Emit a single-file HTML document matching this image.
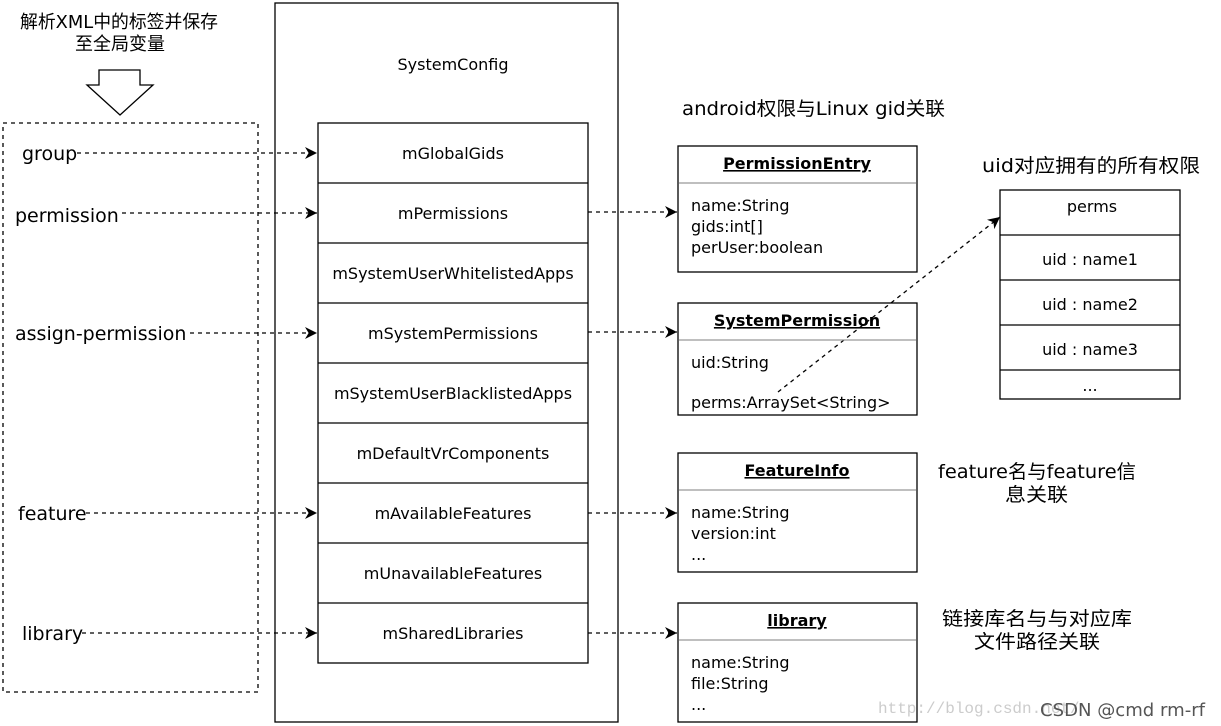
<!DOCTYPE html>
<html><head><meta charset="utf-8"><style>
html,body{margin:0;padding:0;background:#fff}
svg{display:block}
text{font-family:"DejaVu Sans","Noto Sans CJK SC",sans-serif;fill:#000}
</style></head><body>
<svg width="1221" height="726" viewBox="0 0 1221 726" xmlns="http://www.w3.org/2000/svg">
<defs>
<marker id="a" viewBox="0 0 10 10" refX="10" refY="5" markerWidth="12" markerHeight="12" markerUnits="userSpaceOnUse" orient="auto">
<path d="M0,0 L10,5 L0,10 L3,5 Z" fill="#000"/></marker>
</defs>
<g font-size="18">
<text x="20" y="28" textLength="198" lengthAdjust="spacingAndGlyphs">解析XML中的标签并保存</text>
<text x="75" y="50" textLength="90" lengthAdjust="spacingAndGlyphs">至全局变量</text>
</g>
<path d="M99,70 H140 V85 H153 L120,115 L87,85 H99 Z" fill="#fff" stroke="#000" stroke-width="1.3"/>
<rect x="3" y="123" width="255" height="569" fill="none" stroke="#000" stroke-width="1.3" stroke-dasharray="4,4"/>
<rect x="275" y="3" width="343" height="719" fill="none" stroke="#000" stroke-width="1.3"/>
<text x="453" y="70" text-anchor="middle" font-size="16">SystemConfig</text>
<g stroke="#000" stroke-width="1.3" fill="#fff">
<rect x="318" y="123" width="270" height="540"/>
<line x1="318" y1="183" x2="588" y2="183"/><line x1="318" y1="243" x2="588" y2="243"/>
<line x1="318" y1="303" x2="588" y2="303"/><line x1="318" y1="363" x2="588" y2="363"/>
<line x1="318" y1="423" x2="588" y2="423"/><line x1="318" y1="483" x2="588" y2="483"/>
<line x1="318" y1="543" x2="588" y2="543"/><line x1="318" y1="603" x2="588" y2="603"/>
</g>
<g font-size="16" text-anchor="middle">
<text x="453" y="159">mGlobalGids</text>
<text x="453" y="219">mPermissions</text>
<text x="453" y="279">mSystemUserWhitelistedApps</text>
<text x="453" y="339">mSystemPermissions</text>
<text x="453" y="399">mSystemUserBlacklistedApps</text>
<text x="453" y="459">mDefaultVrComponents</text>
<text x="453" y="519">mAvailableFeatures</text>
<text x="453" y="579">mUnavailableFeatures</text>
<text x="453" y="639">mSharedLibraries</text>
</g>
<g font-size="19">
<text x="22" y="160">group</text>
<text x="15" y="222">permission</text>
<text x="15" y="340">assign-permission</text>
<text x="18" y="520">feature</text>
<text x="22" y="640">library</text>
</g>
<g stroke="#000" stroke-width="1.3" stroke-dasharray="4,4" fill="none" marker-end="url(#a)">
<line x1="77" y1="153" x2="317" y2="153"/>
<line x1="122" y1="213" x2="317" y2="213"/>
<line x1="190" y1="333" x2="317" y2="333"/>
<line x1="86" y1="513" x2="317" y2="513"/>
<line x1="82" y1="633" x2="317" y2="633"/>
<line x1="588" y1="212" x2="677" y2="212"/>
<line x1="588" y1="332" x2="677" y2="332"/>
<line x1="588" y1="513" x2="677" y2="513"/>
<line x1="588" y1="633" x2="677" y2="633"/>
<line x1="778" y1="392" x2="1000" y2="217"/>
</g>
<g stroke="#000" stroke-width="1.3" fill="none">
<rect x="678" y="146" width="239" height="126"/>
<rect x="678" y="303" width="239" height="112"/>
<rect x="678" y="453" width="239" height="119"/>
<rect x="678" y="603" width="239" height="119"/>
</g>
<g stroke="#999" stroke-width="1.3">
<line x1="679" y1="183" x2="916" y2="183"/>
<line x1="679" y1="340" x2="916" y2="340"/>
<line x1="679" y1="490" x2="916" y2="490"/>
<line x1="679" y1="640" x2="916" y2="640"/>
</g>
<g font-size="16" font-weight="bold" text-anchor="middle" text-decoration="underline">
<text x="797" y="169">PermissionEntry</text>
<text x="797" y="326">SystemPermission</text>
<text x="797" y="476">FeatureInfo</text>
<text x="797" y="626">library</text>
</g>
<g font-size="16">
<text x="691" y="211">name:String</text>
<text x="691" y="232">gids:int[]</text>
<text x="691" y="253">perUser:boolean</text>
<text x="691" y="368">uid:String</text>
<text x="691" y="408">perms:ArraySet&lt;String&gt;</text>
<text x="691" y="518">name:String</text>
<text x="691" y="539">version:int</text>
<text x="691" y="560">...</text>
<text x="691" y="668">name:String</text>
<text x="691" y="689">file:String</text>
<text x="691" y="710">...</text>
</g>
<g stroke="#000" stroke-width="1.3" fill="none">
<rect x="1000" y="190" width="180" height="209"/>
<line x1="1000" y1="235" x2="1180" y2="235"/>
<line x1="1000" y1="280" x2="1180" y2="280"/>
<line x1="1000" y1="325" x2="1180" y2="325"/>
<line x1="1000" y1="370" x2="1180" y2="370"/>
</g>
<g font-size="16" text-anchor="middle">
<text x="1092" y="212">perms</text>
<text x="1090" y="265">uid : name1</text>
<text x="1090" y="310">uid : name2</text>
<text x="1090" y="355">uid : name3</text>
<text x="1090" y="391">...</text>
</g>
<g font-size="19">
<text x="682" y="115" textLength="263" lengthAdjust="spacingAndGlyphs">android权限与Linux gid关联</text>
<text x="982" y="172" textLength="218" lengthAdjust="spacingAndGlyphs">uid对应拥有的所有权限</text>
<text x="938" y="478" textLength="198" lengthAdjust="spacingAndGlyphs">feature名与feature信</text>
<text x="1005" y="501" textLength="63" lengthAdjust="spacingAndGlyphs">息关联</text>
<text x="942" y="625" textLength="190" lengthAdjust="spacingAndGlyphs">链接库名与与对应库</text>
<text x="974" y="648" textLength="126" lengthAdjust="spacingAndGlyphs">文件路径关联</text>
</g>
<text x="878" y="713" font-size="16" style="fill:#ccc;font-family:'Liberation Mono',monospace">http://blog.csdn.net/</text>
<text x="1040" y="716" font-size="18" textLength="165" lengthAdjust="spacingAndGlyphs" style="fill:#555">CSDN @cmd rm-rf</text>
</svg>
</body></html>
